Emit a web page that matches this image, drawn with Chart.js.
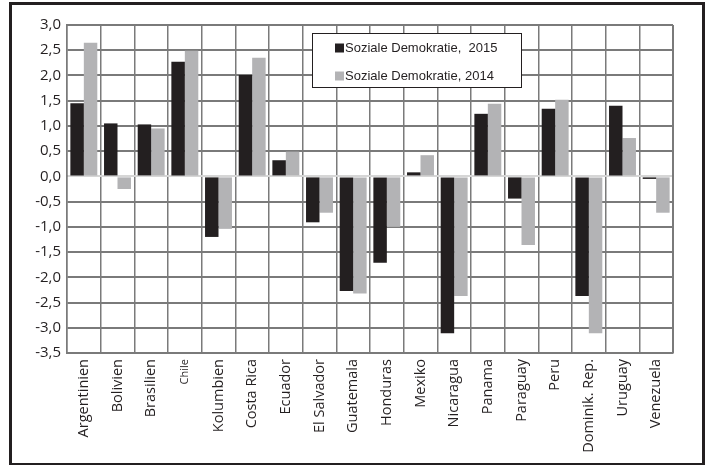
<!DOCTYPE html>
<html>
<head>
<meta charset="utf-8">
<script src="https://cdn.jsdelivr.net/npm/chart.js@4"></script>
<style>
  html, body { margin: 0; padding: 0; background: #fff; }
  #wrap { position: absolute; left: 0; top: 0; width: 708px; height: 465px; }
  #frame { position: absolute; left: 9px; top: 2px; width: 690px; height: 458px; border: 3px solid #231f20; pointer-events: none; }
</style>
</head>
<body>
<div id="wrap"><canvas id="c" width="708" height="465"></canvas></div>
<div id="frame"></div>
<script>
// Länder
const countries = ['Argentinien', 'Bolivien', 'Brasilien', 'Chile', 'Kolumbien', 'Costa Rica', 'Ecuador',
  'El Salvador', 'Guatemala', 'Honduras', 'Mexiko', 'Nicaragua', 'Panama', 'Paraguay', 'Peru',
  'Dominik. Rep.', 'Uruguay', 'Venezuela'];

// Soziale Demokratie, 2015
const values2015 = [1.45, 1.05, 1.03, 2.27, -1.20, 2.01, 0.32, -0.91, -2.27, -1.71, 0.08, -3.11,
  1.24, -0.44, 1.34, -2.37, 1.40, -0.05];

// Soziale Demokratie, 2014
const values2014 = [2.65, -0.25, 0.95, 2.49, -1.04, 2.35, 0.49, -0.72, -2.32, -1.00, 0.42, -2.37,
  1.44, -1.36, 1.52, -3.11, 0.76, -0.72];

const seriesLabels = ['Soziale Demokratie,  2015', 'Soziale Demokratie, 2014'];
const yMin = -3.5, yMax = 3.0, yStep = 0.5;

const colDark = '#231f20';
const colLight = '#b3b3b5';
const gridCol = '#7a7a7a';

// Legendenkasten oben in der Zeichenfläche
const boxLegend = {
  id: 'boxLegend',
  afterDraw(chart) {
    const ctx = chart.ctx;
    const x = 312.5, y = 33.5, w = 209, h = 54;
    ctx.save();
    ctx.fillStyle = '#fff';
    ctx.fillRect(x, y, w, h);
    ctx.strokeStyle = '#231f20';
    ctx.lineWidth = 1;
    ctx.strokeRect(x, y, w, h);
    ctx.font = '13px "Liberation Sans", Arial, sans-serif';
    ctx.textBaseline = 'middle';
    const rows = [48, 76];
    chart.data.datasets.forEach((ds, i) => {
      ctx.fillStyle = ds.backgroundColor;
      ctx.fillRect(335, rows[i] - 4.5, 9, 9);
      ctx.fillStyle = '#231f20';
      ctx.fillText(ds.label, 345, rows[i] + 0.5);
    });
    ctx.restore();
  }
};

// helle Nulllinie unter den Balken, Rahmen oben und rechts
const plotEdge = {
  id: 'plotEdge',
  beforeDatasetsDraw(chart) {
    const a = chart.chartArea, ctx = chart.ctx;
    const y0 = Math.round(chart.scales.y.getPixelForValue(0));
    ctx.save();
    ctx.strokeStyle = '#d6d6d6';
    ctx.lineWidth = 2;
    ctx.beginPath();
    ctx.moveTo(a.left + 1, y0);
    ctx.lineTo(a.right, y0);
    ctx.stroke();
    ctx.restore();
  },
  afterDraw(chart) {
    const a = chart.chartArea, ctx = chart.ctx;
    ctx.save();
    ctx.strokeStyle = gridCol;
    ctx.lineWidth = 2;
    ctx.beginPath();
    ctx.moveTo(a.right, a.top);
    ctx.lineTo(a.right, a.bottom);
    ctx.moveTo(a.left, a.top);
    ctx.lineTo(a.right, a.top);
    ctx.stroke();
    ctx.restore();
  }
};

new Chart(document.getElementById('c'), {
  type: 'bar',
  data: {
    labels: countries,
    datasets: [
      { label: seriesLabels[0], data: values2015, backgroundColor: colDark },
      { label: seriesLabels[1], data: values2014, backgroundColor: colLight }
    ]
  },
  options: {
    responsive: false,
    animation: false,
    layout: { padding: { top: 25, right: 35, left: 0, bottom: 0 } },
    plugins: { legend: { display: false }, tooltip: { enabled: false } },
    datasets: { bar: { categoryPercentage: 0.8, barPercentage: 1.0 } },
    scales: {
      x: {
        afterFit(scale) { scale.height = 112; },
        grid: { color: gridCol, lineWidth: 1.5, offset: true, drawTicks: false },
        border: { color: gridCol, width: 2 },
        ticks: {
          autoSkip: false,
          minRotation: 90,
          maxRotation: 90,
          padding: 6,
          color: '#231f20',
          font: (ctx) => ({ family: '"Open Sans", sans-serif', size: ctx.index === 3 ? 11 : 14.5 })
        }
      },
      y: {
        type: 'linear',
        min: yMin,
        max: yMax,
        afterFit(scale) { scale.width = 67; },
        grid: { color: gridCol, lineWidth: 2, drawTicks: false },
        border: { color: gridCol, width: 1.5 },
        ticks: {
          stepSize: yStep,
          padding: 6,
          color: '#231f20',
          font: { family: '"Open Sans", sans-serif', size: 15 },
          callback: (v) => v.toFixed(1).replace('.', ',')
        }
      }
    }
  },
  plugins: [boxLegend, plotEdge]
});
</script>
</body>
</html>
